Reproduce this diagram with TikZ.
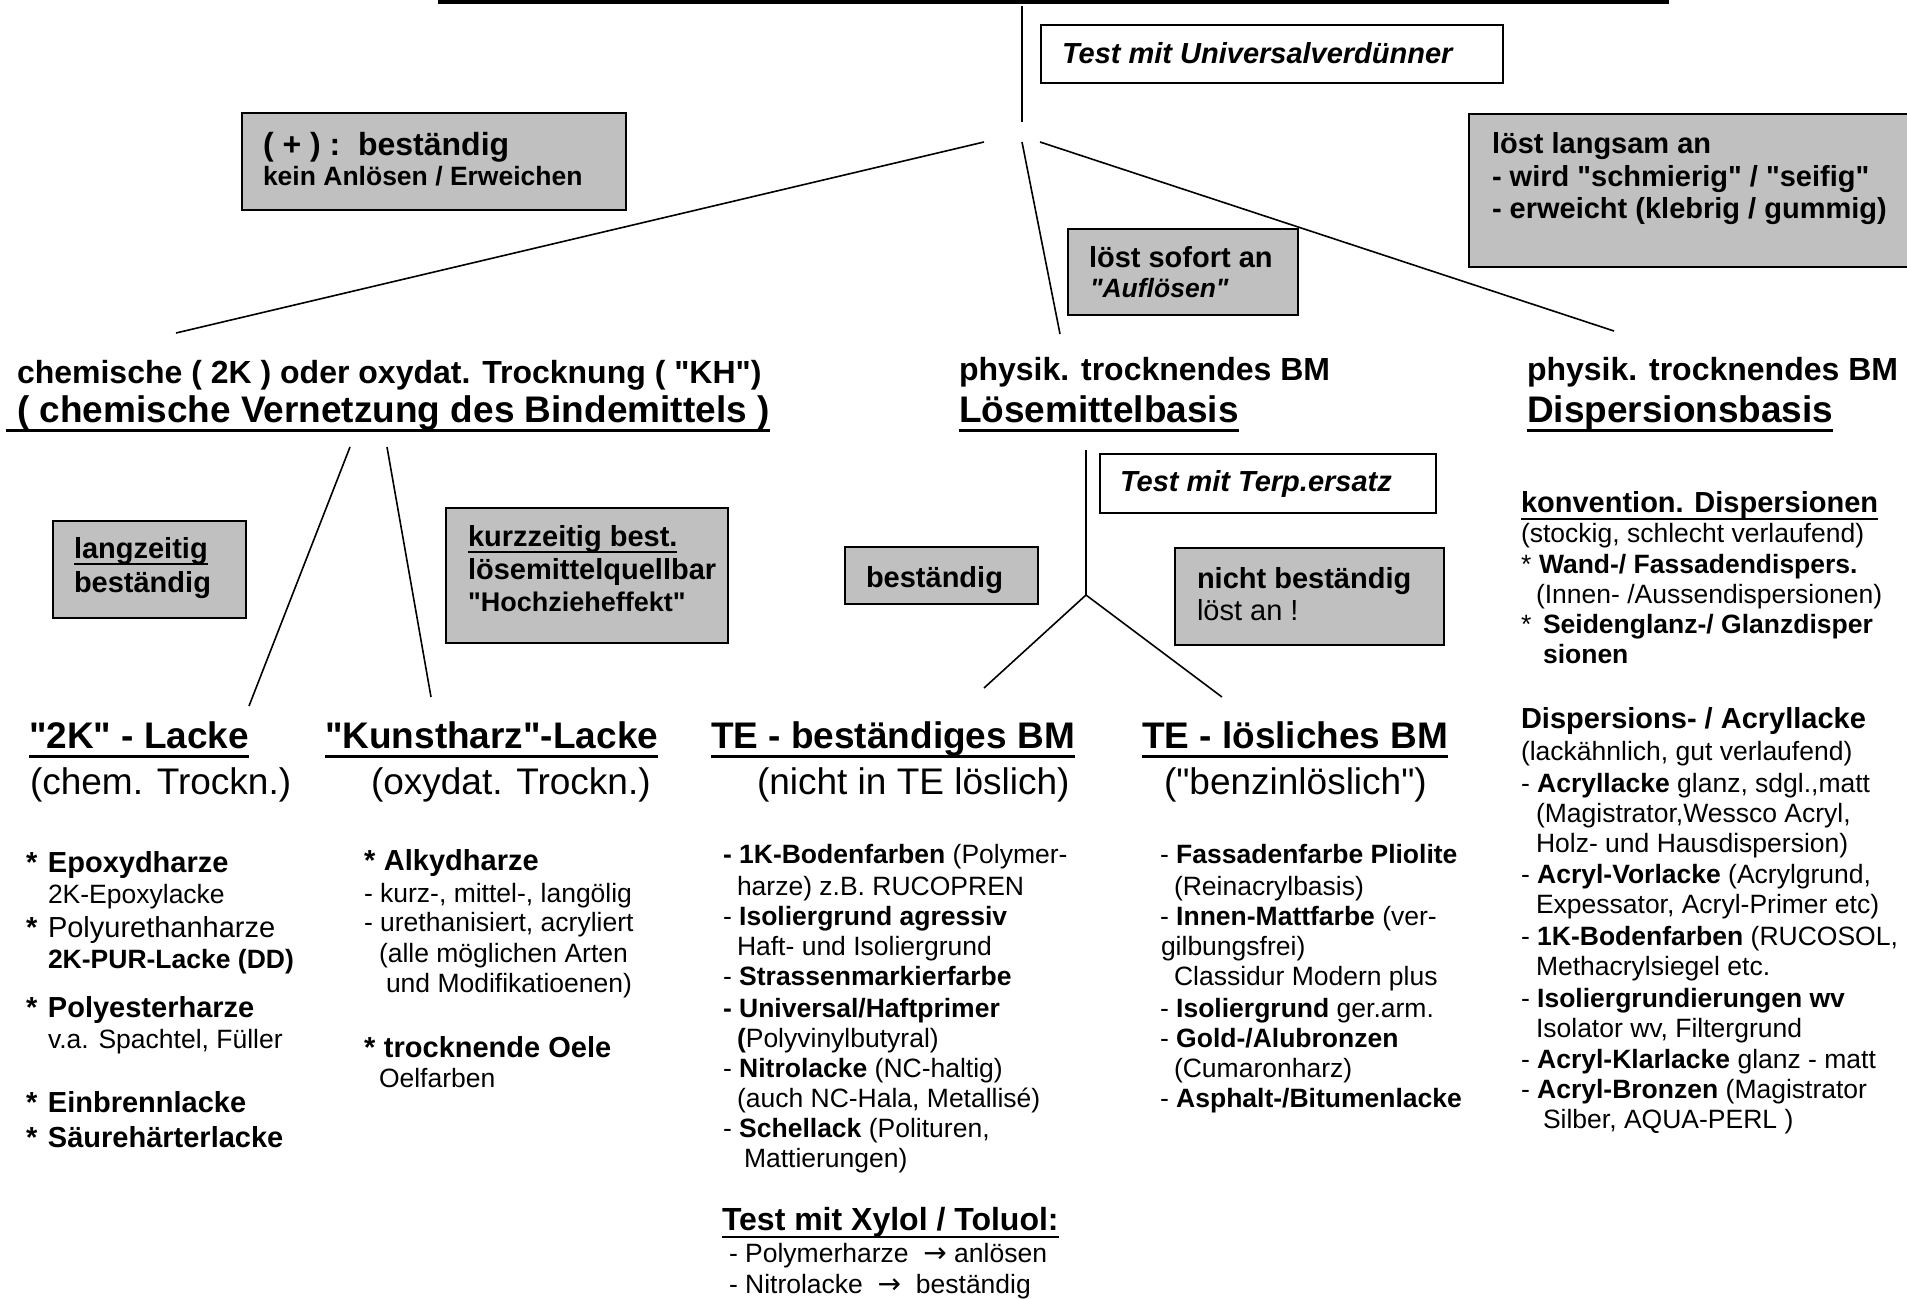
\documentclass[tikz,border=0pt]{standalone}
\usepackage{fontspec}
\setmainfont{Liberation Sans}
\newfontfamily\arl{Liberation Sans}
\newfontfamily\dvs{DejaVu Sans}
\usetikzlibrary{calc}
\definecolor{boxgray}{HTML}{C0C0C0}
\newcommand{\szS}{\arl\fontsize{26.5bp}{30bp}\selectfont}
\newcommand{\szM}{\arl\fontsize{29bp}{33bp}\selectfont}
\newcommand{\szMs}{\arl\fontsize{27bp}{31bp}\selectfont}
\newcommand{\szL}{\arl\fontsize{32bp}{36bp}\selectfont}
\newcommand{\szX}{\arl\fontsize{37bp}{42bp}\selectfont}
\newcommand{\rarr}{{\dvs\fontsize{28bp}{30bp}\selectfont →}}
\newcommand{\ulnode}[3]{\draw[line width=#3] ([yshift=-#2]#1.base west) -- ([yshift=-#2]#1.base east);}
\begin{document}
\begin{tikzpicture}[x=1bp, y=-1bp, line width=1.6bp,
  txt/.style={anchor=base west, inner sep=0pt, outer sep=0pt},
  gbox/.style={draw, fill=boxgray, line width=1.6bp, anchor=north west, inner sep=0pt, outer sep=0pt},
  wbox/.style={gbox, fill=white},
  conn/.style={line width=1.6bp},
  sm/.style={txt, font=\szS},
  smb/.style={txt, font=\szS\bfseries},
  md/.style={txt, font=\szM},
  mdb/.style={txt, font=\szM\bfseries},
  lgb/.style={txt, font=\szL\bfseries},
  xl/.style={txt, font=\szX},
  xlb/.style={txt, font=\szX\bfseries}]
\useasboundingbox[fill=white] (0,0) rectangle (1907,1298);

% ---- top ----
\coordinate (topL) at (438,1.75);
\coordinate (topR) at (1669,1.75);
\draw[line width=3.5bp] (topL) -- (topR);
\coordinate (vTop) at (1022,6);
\coordinate (vBot) at (1022,122);
\draw[conn] (vTop) -- (vBot);
\node[wbox, minimum width=462bp, minimum height=58bp] (bUni) at (1041,25) {};
\node[txt, font=\szM\bfseries\itshape] (tUni) at (1062,63) {Test mit Universalverdünner};

% ---- hub lines ----
\coordinate (hL) at (984,142);
\coordinate (hM) at (1022,142);
\coordinate (hR) at (1040,142);
\coordinate (eL) at (176,333);
\coordinate (eM) at (1060,334);
\coordinate (eR) at (1614,331);
\draw[conn] (hL) -- (eL);
\draw[conn] (hM) -- (eM);
\draw[conn] (hR) -- (eR);

% ---- boxes level 1 ----
\node[gbox, minimum width=384bp, minimum height=97bp] (bPlus) at (242,113) {};
\node[lgb] (tPlus1) at (263,155) {( + ) :\ \ beständig};
\node[smb] (tPlus2) at (263,185) {kein Anlösen / Erweichen};

\node[gbox, minimum width=470bp, minimum height=153bp] (bSlow) at (1469,114) {};
\node[mdb] (tSlow1) at (1492,153) {löst langsam an};
\node[mdb] (tSlow2) at (1492,186) {- wird "schmierig" / "seifig"};
\node[mdb] (tSlow3) at (1492,218) {- erweicht (klebrig / gummig)};

\node[gbox, minimum width=230bp, minimum height=86bp] (bFast) at (1068,229) {};
\node[mdb] (tFast1) at (1089,267) {löst sofort an};
\node[txt, font=\szS\bfseries\itshape] (tFast2) at (1090,297) {"Auflösen"};

% ---- headings ----
\node[lgb] (hChem1) at (17,383) {chemische ( 2K ) oder oxydat. Trocknung ( "KH")};
\node[xlb] (hChem2) at (17,422) {( chemische Vernetzung des Bindemittels )};
\draw[line width=3bp] ([xshift=-11bp,yshift=-8.5bp]hChem2.base west) -- ([yshift=-8.5bp]hChem2.base east);
\node[lgb] (hLoes1) at (959,380) {physik. trocknendes BM};
\node[xlb] (hLoes2) at (959,422) {Lösemittelbasis};
\ulnode{hLoes2}{8.5bp}{3bp}
\node[lgb] (hDisp1) at (1527,380) {physik. trocknendes BM};
\node[xlb] (hDisp2) at (1527,422) {Dispersionsbasis};
\ulnode{hDisp2}{8.5bp}{3bp}

% ---- second level lines ----
\coordinate (cA) at (350,447);
\coordinate (cAe) at (249,706);
\coordinate (cB) at (387,447);
\coordinate (cBe) at (431,697);
\draw[conn] (cA) -- (cAe);
\draw[conn] (cB) -- (cBe);
\coordinate (tvTop) at (1086,450);
\coordinate (tvHub) at (1086,595);
\coordinate (tvL) at (984,688);
\coordinate (tvR) at (1222,697);
\draw[conn] (tvTop) -- (tvHub);
\draw[conn] (tvHub) -- (tvL);
\draw[conn] (tvHub) -- (tvR);

% ---- boxes level 2 ----
\node[gbox, minimum width=193bp, minimum height=97bp] (bLang) at (53,521) {};
\node[mdb] (tLang1) at (74,558) {langzeitig};
\ulnode{tLang1}{6bp}{2.5bp}
\node[mdb] (tLang2) at (74,592) {beständig};

\node[gbox, minimum width=282bp, minimum height=135bp] (bKurz) at (446,508) {};
\node[mdb] (tKurz1) at (468,546) {kurzzeitig best.};
\ulnode{tKurz1}{6bp}{2.5bp}
\node[mdb] (tKurz2) at (468,579) {lösemittelquellbar};
\node[txt, font=\szMs\bfseries] (tKurz3) at (468,611) {"Hochzieheffekt"};

\node[gbox, minimum width=193bp, minimum height=57bp] (bBest) at (845,547) {};
\node[mdb] (tBest) at (866,587) {beständig};

\node[wbox, minimum width=336bp, minimum height=59bp] (bTerp) at (1100,454) {};
\node[txt, font=\szM\bfseries\itshape] (tTerp) at (1120,491) {Test mit Terp.ersatz};

\node[gbox, minimum width=269bp, minimum height=97bp] (bNicht) at (1175,548) {};
\node[mdb] (tNicht1) at (1197,588) {nicht beständig};
\node[md] (tNicht2) at (1197,620) {löst an !};

% ---- level 3 headings ----
\node[xlb] (h2K) at (29,748) {"2K" - Lacke};
\ulnode{h2K}{8.5bp}{3bp}
\node[xl] (h2Ks) at (30,794) {(chem. Trockn.)};
\node[xlb] (hKH) at (325,748) {"Kunstharz"-Lacke};
\ulnode{hKH}{8.5bp}{3bp}
\node[xl] (hKHs) at (371,794) {(oxydat. Trockn.)};
\node[xlb] (hTEb) at (711,748) {TE - beständiges BM};
\ulnode{hTEb}{8.5bp}{3bp}
\node[xl] (hTEbs) at (757,794) {(nicht in TE löslich)};
\node[xlb] (hTEl) at (1142,748) {TE - lösliches BM};
\ulnode{hTEl}{8.5bp}{3bp}
\node[xl] (hTEls) at (1164,794) {("benzinlöslich")};

% ---- column A ----
\node[mdb] (a1) at (26,872) {\makebox[22bp][l]{*}Epoxydharze};
\node[sm] (a2) at (48,903) {2K-Epoxylacke};
\node[md] (a3) at (26,937) {\makebox[22bp][l]{\bfseries *}Polyurethanharze};
\node[smb] (a4) at (48,968) {2K-PUR-Lacke (DD)};
\node[mdb] (a5) at (26,1017) {\makebox[22bp][l]{*}Polyesterharze};
\node[sm] (a6) at (48,1048) {v.a. Spachtel, Füller};
\node[mdb] (a7) at (26,1112) {\makebox[22bp][l]{*}Einbrennlacke};
\node[mdb] (a8) at (26,1147) {\makebox[22bp][l]{*}Säurehärterlacke};

% ---- column B ----
\node[mdb] (b1) at (364,870) {\makebox[20bp][l]{*}Alkydharze};
\node[sm] (b2) at (364,902) {- kurz-, mittel-, langölig};
\node[sm] (b3) at (364,931) {- urethanisiert, acryliert};
\node[sm] (b4) at (379,962) {(alle möglichen Arten};
\node[sm] (b5) at (386,992) {und Modifikatioenen)};
\node[mdb] (b6) at (364,1057) {\makebox[20bp][l]{*}trocknende Oele};
\node[sm] (b7) at (379,1087) {Oelfarben};

% ---- column C ----
\node[sm] (c1) at (723,863) {\textbf{- 1K-Bodenfarben} (Polymer-};
\node[sm] (c2) at (737,895) {harze) z.B. RUCOPREN};
\node[sm] (c3) at (723,925) {- \textbf{Isoliergrund agressiv}};
\node[sm] (c4) at (737,955) {Haft- und Isoliergrund};
\node[sm] (c5) at (723,985) {- \textbf{Strassenmarkierfarbe}};
\node[smb] (c6) at (723,1017) {- Universal/Haftprimer};
\node[sm] (c7) at (737,1047) {\textbf{(}Polyvinylbutyral)};
\node[sm] (c8) at (723,1077) {- \textbf{Nitrolacke} (NC-haltig)};
\node[sm] (c9) at (737,1107) {(auch NC-Hala, Metallisé)};
\node[sm] (c10) at (723,1137) {- \textbf{Schellack} (Polituren,};
\node[sm] (c11) at (744,1167) {Mattierungen)};
\node[lgb] (cX) at (722,1230) {Test mit Xylol / Toluol:};
\ulnode{cX}{7bp}{2.5bp}
\node[sm] (cX1) at (729,1262) {- Polymerharze\ \ \rarr\ anlösen};
\node[sm] (cX2) at (729,1293) {- Nitrolacke\ \ \rarr\ \ beständig};

% ---- column D ----
\node[sm] (d1) at (1160,863) {- \textbf{Fassadenfarbe Pliolite}};
\node[sm] (d2) at (1174,895) {(Reinacrylbasis)};
\node[sm] (d3) at (1160,925) {- \textbf{Innen-Mattfarbe}\ (ver-};
\node[sm] (d4) at (1161,955) {gilbungsfrei)};
\node[sm] (d5) at (1174,985) {Classidur Modern plus};
\node[sm] (d6) at (1160,1017) {- \textbf{Isoliergrund} ger.arm.};
\node[sm] (d7) at (1160,1047) {- \textbf{Gold-/Alubronzen}};
\node[sm] (d8) at (1174,1077) {(Cumaronharz)};
\node[sm] (d9) at (1160,1107) {- \textbf{Asphalt-/Bitumenlacke}};

% ---- column E ----
\node[mdb] (e1) at (1521,512) {konvention. Dispersionen};
\ulnode{e1}{7bp}{2.5bp}
\node[sm] (e2) at (1521,542) {(stockig, schlecht verlaufend)};
\node[sm] (e3) at (1521,573) {\makebox[18bp][l]{*}\textbf{Wand-/ Fassadendispers.}};
\node[sm] (e4) at (1536,603) {(Innen- /Aussendispersionen)};
\node[sm] (e5) at (1521,633) {\makebox[22bp][l]{*}\textbf{Seidenglanz-/ Glanzdisper}};
\node[smb] (e6) at (1543,663) {sionen};
\node[mdb] (e7) at (1521,728) {Dispersions- / Acryllacke};
\node[sm] (e8) at (1521,760) {(lackähnlich, gut verlaufend)};
\node[sm] (e9) at (1521,792) {- \textbf{Acryllacke} glanz, sdgl.,matt};
\node[sm] (e10) at (1536,822) {(Magistrator,Wessco Acryl,};
\node[sm] (e11) at (1536,852) {Holz- und Hausdispersion)};
\node[sm] (e12) at (1521,883) {- \textbf{Acryl-Vorlacke} (Acrylgrund,};
\node[sm] (e13) at (1536,913) {Expessator, Acryl-Primer etc)};
\node[sm] (e14) at (1521,945) {- \textbf{1K-Bodenfarben} (RUCOSOL,};
\node[sm] (e15) at (1536,975) {Methacrylsiegel etc.};
\node[sm] (e16) at (1521,1007) {- \textbf{Isoliergrundierungen wv}};
\node[sm] (e17) at (1536,1037) {Isolator wv, Filtergrund};
\node[sm] (e18) at (1521,1068) {- \textbf{Acryl-Klarlacke} glanz - matt};
\node[sm] (e19) at (1521,1098) {- \textbf{Acryl-Bronzen} (Magistrator};
\node[sm] (e20) at (1543,1128) {Silber, AQUA-PERL )};
\end{tikzpicture}
\end{document}
